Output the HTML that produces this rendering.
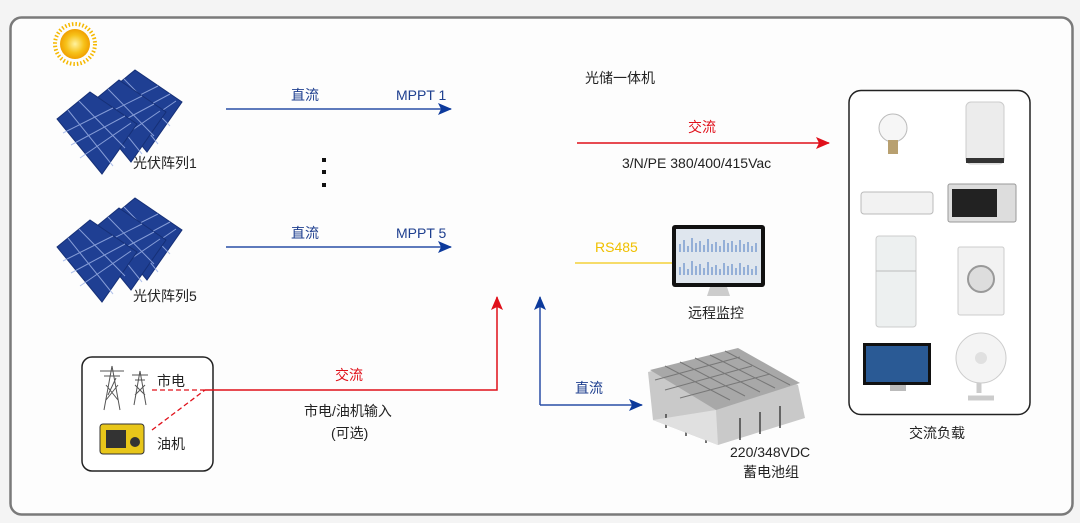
<!DOCTYPE html>
<html><head><meta charset="utf-8"><style>
html,body{margin:0;padding:0;background:#f4f4f4;}
svg{display:block;}
text{font-family:"Liberation Sans","Noto Sans CJK SC",sans-serif;font-size:14px;fill:#222;}
</style></head><body>
<svg width="1080" height="523" viewBox="0 0 1080 523" xmlns="http://www.w3.org/2000/svg">
<defs>
<marker id="ab" markerWidth="14" markerHeight="12" refX="13" refY="6" orient="auto" markerUnits="userSpaceOnUse"><path d="M0,0 L14,6 L0,12 L3,6Z" fill="#0d3a9c"/></marker>
<marker id="ar" markerWidth="14" markerHeight="12" refX="13" refY="6" orient="auto" markerUnits="userSpaceOnUse"><path d="M0,0 L14,6 L0,12 L3,6Z" fill="#e0101a"/></marker>
<radialGradient id="sun"><stop offset="0" stop-color="#fff3a0"/><stop offset="0.6" stop-color="#f7c21a"/><stop offset="1" stop-color="#f0a000"/></radialGradient>
<g id="rh">
<path d="M0,0 L33,-27 L80,5 L45,55Z" fill="#1f3f93" stroke="#163077" stroke-width="1"/>
<g stroke="#9fb4e8" stroke-width="1" opacity="0.8">
<path d="M11,-9 L56,47 M22,-18 L68,29 M6,14 L56,-11 M14,26 L68,-3 M23,39 L74,4"/>
</g>
</g>
<g id="panel">
<use href="#rh" x="47" y="25"/>
<use href="#rh" x="31" y="35"/>
<use href="#rh" x="2" y="47"/>
</g>
</defs>
<rect x="10.5" y="17.5" width="1062" height="497" rx="11" fill="#fdfdfd" stroke="#7a7a7a" stroke-width="2.5"/>
<g transform="translate(75,44)">
<circle r="20" fill="none" stroke="#f5b800" stroke-width="4" stroke-dasharray="1.5 2"/>
<circle r="15" fill="url(#sun)"/>
</g>
<use href="#panel" x="55" y="72"/>
<use href="#panel" x="55" y="200"/>
<text x="133" y="168">光伏阵列1</text>
<text x="133" y="301">光伏阵列5</text>
<line x1="226" y1="109" x2="451" y2="109" stroke="#2a4ea6" stroke-width="1.5" marker-end="url(#ab)"/>
<text x="291" y="100" style="fill:#1e3f8f">直流</text>
<text x="396" y="100" style="fill:#1e3f8f">MPPT 1</text>
<line x1="226" y1="247" x2="451" y2="247" stroke="#2a4ea6" stroke-width="1.5" marker-end="url(#ab)"/>
<text x="291" y="238" style="fill:#1e3f8f">直流</text>
<text x="396" y="238" style="fill:#1e3f8f">MPPT 5</text>
<rect x="322" y="158" width="4" height="4" fill="#111"/>
<rect x="322" y="170" width="4" height="4" fill="#111"/>
<rect x="322" y="183" width="4" height="4" fill="#111"/>
<text x="585" y="83">光储一体机</text>
<text x="688" y="132" style="fill:#e0101a">交流</text>
<line x1="577" y1="143" x2="829" y2="143" stroke="#e0101a" stroke-width="1.5" marker-end="url(#ar)"/>
<text x="622" y="168">3/N/PE 380/400/415Vac</text>
<text x="595" y="252" style="fill:#f0c000">RS485</text>
<line x1="575" y1="263" x2="672" y2="263" stroke="#f3d23a" stroke-width="1.5"/>
<rect x="672" y="225" width="93" height="62" rx="3" fill="#111"/>
<rect x="676" y="229" width="85" height="54" fill="#dfe6ee"/>
<g stroke="#4a78c0" stroke-width="1"><path d="M680,252 v-8 M684,252 v-12 M688,252 v-6 M692,252 v-14 M696,252 v-9 M700,252 v-11 M704,252 v-7 M708,252 v-13 M712,252 v-8 M716,252 v-10 M720,252 v-6 M724,252 v-12 M728,252 v-9 M732,252 v-11 M736,252 v-7 M740,252 v-12 M744,252 v-8 M748,252 v-10 M752,252 v-6 M756,252 v-9"/>
<path d="M680,275 v-8 M684,275 v-12 M688,275 v-6 M692,275 v-14 M696,275 v-9 M700,275 v-11 M704,275 v-7 M708,275 v-13 M712,275 v-8 M716,275 v-10 M720,275 v-6 M724,275 v-12 M728,275 v-9 M732,275 v-11 M736,275 v-7 M740,275 v-12 M744,275 v-8 M748,275 v-10 M752,275 v-6 M756,275 v-9"/></g>
<path d="M710,287 L727,287 L730,296 L707,296Z" fill="#ccc"/>
<text x="688" y="318">远程监控</text>
<rect x="82" y="357" width="131" height="114" rx="10" fill="#fff" stroke="#222" stroke-width="1.5"/>
<g stroke="#555" stroke-width="1" fill="none">
<path d="M100,371 h24 M104,376 h16 M112,366 L104,410 M112,366 L120,410 M106,400 L118,385 M106,385 L118,400 M108,395 L116,378"/>
<path d="M132,375 h16 M135,380 h10 M140,371 L134,405 M140,371 L146,405 M135,395 L145,385 M135,385 L145,395"/>
</g>
<rect x="100" y="424" width="44" height="30" rx="3" fill="#e8c61a" stroke="#333"/>
<rect x="106" y="430" width="20" height="18" fill="#333"/>
<circle cx="135" cy="442" r="5" fill="#333"/>
<text x="157" y="386">市电</text>
<text x="157" y="449">油机</text>
<path d="M152,390 L205,390 M152,430 L205,390" stroke="#e0101a" stroke-width="1.3" stroke-dasharray="5 3" fill="none"/>
<path d="M205,390 L497,390 L497,297" stroke="#e0101a" stroke-width="1.5" fill="none" marker-end="url(#ar)"/>
<text x="335" y="380" style="fill:#e0101a">交流</text>
<text x="304" y="416">市电/油机输入</text>
<text x="331" y="438">(可选)</text>
<path d="M540,405 L540,297" stroke="#2a4ea6" stroke-width="1.5" fill="none" marker-end="url(#ab)"/>
<path d="M540,405 L642,405" stroke="#2a4ea6" stroke-width="1.5" fill="none" marker-end="url(#ab)"/>
<text x="575" y="393" style="fill:#1e3f8f">直流</text>
<!-- batteries -->
<path d="M648,372 L735,350 L798,385 L805,418 L718,445 L653,420Z" fill="#c9c9c9"/>
<path d="M650,370 L738,348 L800,383 L716,410Z" fill="#a8a8a8"/>
<g stroke="#777" stroke-width="1" fill="none">
<path d="M665,366 L730,400 M680,362 L745,396 M695,358 L760,392 M710,355 L775,388 M725,351 L790,385 M655,380 L740,357 M665,390 L752,366 M680,398 L770,374"/>
</g>
<g stroke="#444" stroke-width="1.5"><path d="M666,414 V428 M686,418 V436 M706,420 V443 M740,418 V440 M760,412 V434 M780,406 V428"/></g>
<path d="M653,420 L716,410 L718,445Z" fill="#e0e0e0"/>
<text x="730" y="457">220/348VDC</text>
<text x="743" y="477">蓄电池组</text>
<rect x="849" y="90.5" width="181" height="324" rx="12" fill="#fff" stroke="#222" stroke-width="1.5"/>
<g>
<circle cx="893" cy="128" r="14" fill="#f6f6f6" stroke="#bbb"/>
<rect x="888" y="140" width="10" height="14" fill="#b8a070"/>
<rect x="966" y="102" width="38" height="62" rx="5" fill="#ececec" stroke="#ccc"/>
<rect x="966" y="158" width="38" height="5" fill="#333"/>
<rect x="861" y="192" width="72" height="22" rx="3" fill="#f2f2f2" stroke="#bbb"/>
<rect x="948" y="184" width="68" height="38" rx="2" fill="#ddd" stroke="#999"/>
<rect x="952" y="189" width="45" height="28" fill="#222"/>
<rect x="876" y="236" width="40" height="91" rx="3" fill="#edf0f0" stroke="#ccc"/>
<line x1="876" y1="271" x2="916" y2="271" stroke="#bbb"/>
<rect x="958" y="247" width="46" height="68" rx="2" fill="#f2f2f2" stroke="#ccc"/>
<circle cx="981" cy="279" r="13" fill="#ddd" stroke="#999" stroke-width="2"/>
<rect x="863" y="343" width="68" height="42" fill="#111"/>
<rect x="866" y="346" width="62" height="36" fill="#2a5a95"/>
<rect x="890" y="385" width="16" height="6" fill="#bbb"/>
<circle cx="981" cy="358" r="25" fill="#f4f4f4" stroke="#ccc"/>
<circle cx="981" cy="358" r="6" fill="#e0e0e0"/>
<path d="M979,383 V393 M968,398 h26" stroke="#ccc" stroke-width="5"/>
</g>
<text x="909" y="438">交流负载</text>
</svg>
</body></html>
